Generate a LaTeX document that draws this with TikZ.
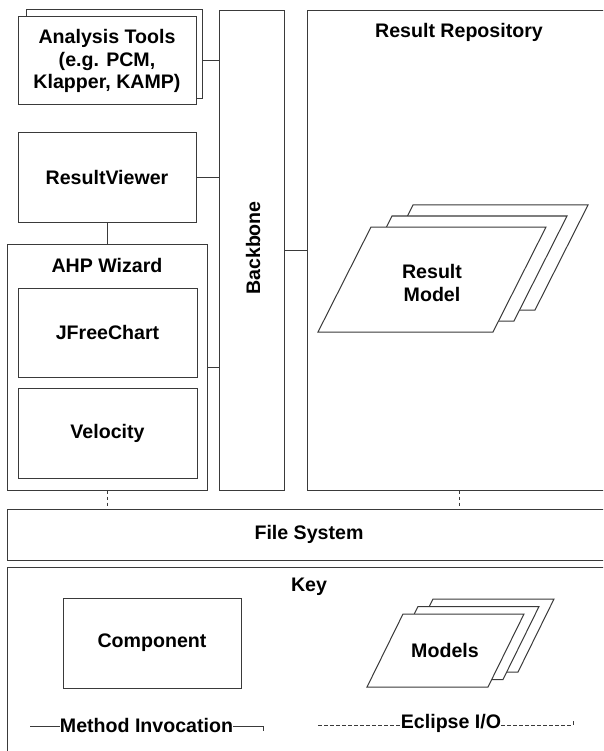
\documentclass[tikz,border=0pt]{standalone}
\usepackage{fontspec}
\setmainfont{Liberation Sans}
\usetikzlibrary{calc,positioning}
\definecolor{edge}{HTML}{3A3A3A}
\tikzset{
  box/.style={draw=edge, fill=white, line width=1pt, inner sep=0pt, align=center,
    font=\bfseries\fontsize{19.6}{22.5}\selectfont},
  lab/.style={font=\bfseries\fontsize{19.6}{22.5}\selectfont, text=black, align=center, inner sep=0pt},
  wire/.style={draw=edge, line width=1pt},
  io/.style={draw=edge, line width=0.8pt, dash pattern=on 3.5pt off 2.5pt},
}

\begin{document}
\begin{tikzpicture}[x=1pt,y=-1pt]
  \useasboundingbox (0,0) rectangle (603,751);
  \clip (0,0) rectangle (603,751);

  % left column
  \node[box, minimum width=176, minimum height=89] (toolsback) at (114,54.5) {};
  \node[box, minimum width=178, minimum height=88] (tools) at (107,61) {Analysis Tools\\(e.g. PCM,\\Klapper, KAMP)};
  \node[box, minimum width=178, minimum height=89] (viewer) at (107,177.5) {ResultViewer};
  \node[box, minimum width=200, minimum height=246] (wizard) at (107,367) {};
  \node[lab] (wiztitle) at (107,265) {AHP Wizard};
  \node[box, minimum width=179, minimum height=89] (chart) at (107.5,332.5) {JFreeChart};
  \node[box, minimum width=179, minimum height=90] (velocity) at (107.5,433) {Velocity};

  % backbone and repository
  \node[box, minimum width=65, minimum height=479] (backbone) at (251.5,250.5) {};
  \node[lab, rotate=90] (bbtitle) at (253,248) {Backbone};
  \node[box, minimum width=304, minimum height=479] (repo) at (459,250.5) {};
  \node[lab] (repotitle) at (459,32) {Result Repository};

  % stacked result models
  \foreach \k in {2,1,0}
    \draw[box] ($(318,332)+(\k*21,-\k*11)$) -- ++(175,0) -- ++(53,-105) -- ++(-175,0) -- cycle;
  \node[lab] (model) at (432,283) {Result\\Model};

  \node[box, minimum width=604, minimum height=51] (fs) at (309,534.5) {File System};

  % method calls
  \draw[wire] (tools.east -| toolsback.east) -- (tools.east -| backbone.west);
  \draw[wire] (viewer.east) -- (viewer.east -| backbone.west);
  \draw[wire] (viewer.south) -- (wizard.north);
  \draw[wire] (wizard.east) -- (wizard.east -| backbone.west);
  \draw[wire] (backbone.east) -- (backbone.east -| repo.west);

  % file access
  \draw[io] (wizard.south) -- (wizard.south |- fs.north);
  \draw[io] (repo.south) -- (repo.south |- fs.north);

  % key
  \node[box, minimum width=604, minimum height=200] (key) at (309,667) {};
  \node[lab] (keytitle) at (309,587) {Key};
  \node[box, minimum width=178, minimum height=90] (component) at (152,643) {Component};
  \foreach \k in {2,1,0}
    \draw[box] ($(367,687)+(\k*15,-\k*7.5)$) -- ++(121,0) -- ++(36,-73) -- ++(-121,0) -- cycle;
  \node[lab] (models) at (445,650) {Models};

  \coordinate (mistart) at (30,726);
  \coordinate (miend) at (263,726);
  \node[lab] (mitext) at (146.5,725) {Method Invocation};
  \draw[wire] (mistart) -- (mistart -| mitext.west);
  \draw[wire] (mitext.east |- mistart) -- (miend) -- ++(0,5);

  \coordinate (iostart) at (318,725);
  \coordinate (ioend) at (573,725);
  \node[lab] (iotext) at (451,723) {Eclipse I/O};
  \draw[io] (iostart) -- (iostart -| iotext.west);
  \draw[io] (iotext.east |- ioend) -- (ioend) -- ++(0,-4);
\end{tikzpicture}
\end{document}
